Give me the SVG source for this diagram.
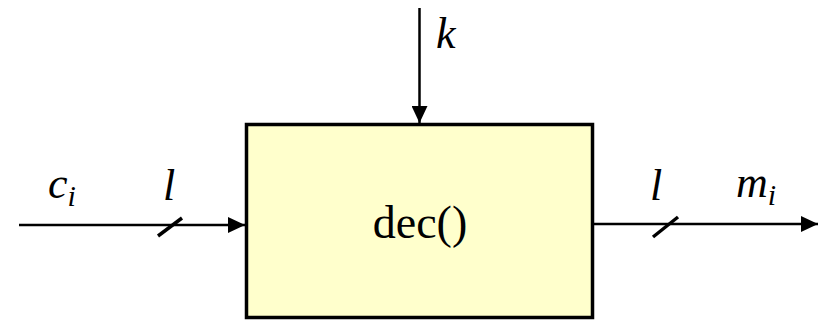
<svg xmlns="http://www.w3.org/2000/svg" width="825" height="320" viewBox="0 0 825 320">
<defs>
<marker id="ah" markerWidth="17" markerHeight="16" refX="17" refY="8" orient="auto" markerUnits="userSpaceOnUse">
<path d="M0,0 L17,8 L0,16 Z" fill="#000"/>
</marker>
<style>
text{font-family:"Times New Roman","Liberation Serif",Tinos,serif;fill:#000}
.lbl{font-style:italic;font-size:44px}
.sub{font-size:30px}
.wire{stroke:#000;stroke-width:2.5;fill:none}
.slash{stroke:#000;stroke-width:3.5}
</style>
</defs>
<rect width="825" height="320" fill="#fff"/>
<g id="connectors">
<line class="wire" x1="19" y1="225" x2="245" y2="225" marker-end="url(#ah)"/>
<line class="slash" x1="158" y1="236" x2="182" y2="218"/>
<line class="wire" x1="593" y1="224" x2="818" y2="224" marker-end="url(#ah)"/>
<line class="slash" x1="653" y1="237" x2="678" y2="217"/>
<line class="wire" x1="419.5" y1="8" x2="419.5" y2="123" marker-end="url(#ah)"/>
</g>
<g id="labels">
<text class="lbl" x="48" y="198">c<tspan class="sub" dy="8">i</tspan></text>
<text class="lbl" x="163" y="200">l</text>
<text class="lbl" x="650" y="200">l</text>
<text class="lbl" x="736" y="197">m<tspan class="sub" dy="8">i</tspan></text>
<text class="lbl" x="436" y="48">k</text>
</g>
<g id="dec">
<rect x="246.5" y="124.5" width="346" height="193" fill="#FFFFCC" stroke="#000" stroke-width="3.5"/>
<text x="420" y="238" text-anchor="middle" font-size="46">dec()</text>
</g>
</svg>
